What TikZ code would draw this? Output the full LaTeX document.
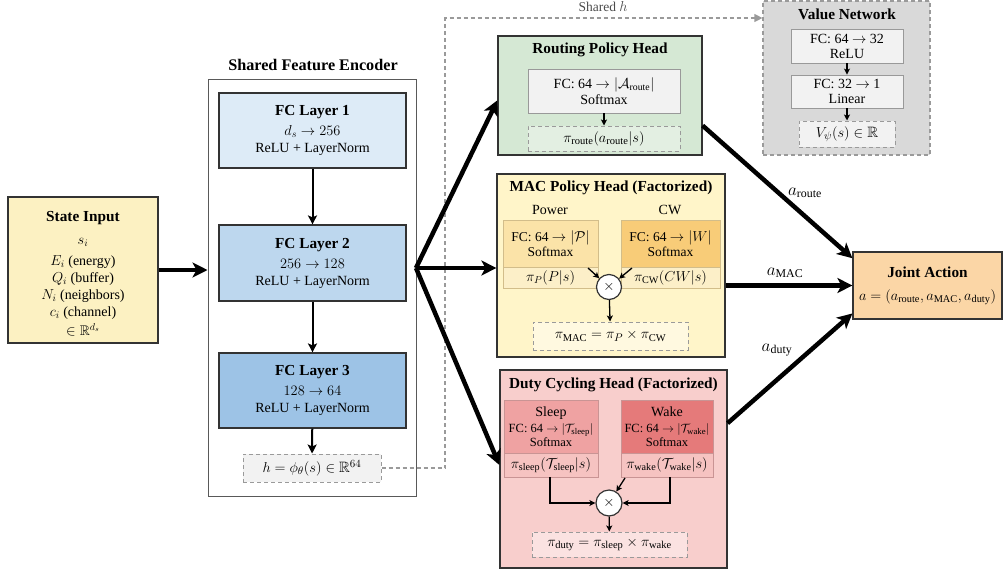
\documentclass[tikz,border=0pt]{standalone}
\usepackage{amssymb}
\usepackage{fontspec}
\setmainfont{Liberation Serif}
\usetikzlibrary{arrows.meta,calc}
\definecolor{stfill}{HTML}{FCF1C2}
\definecolor{fcone}{HTML}{DDEBF7}
\definecolor{fctwo}{HTML}{BDD7EE}
\definecolor{fcthree}{HTML}{9DC3E6}
\definecolor{grfill}{HTML}{D5E8D4}
\definecolor{grlight}{HTML}{E3EFE2}
\definecolor{ylfill}{HTML}{FFF5C9}
\definecolor{yllight}{HTML}{FFF9E0}
\definecolor{powfill}{HTML}{FBE3A8}
\definecolor{cwfill}{HTML}{F8CC78}
\definecolor{subbot}{HTML}{FCEFC8}
\definecolor{subline}{HTML}{D2BD8A}
\definecolor{pkfill}{HTML}{F8CECC}
\definecolor{pklight}{HTML}{FBE2E1}
\definecolor{slfill}{HTML}{EFA2A2}
\definecolor{wkfill}{HTML}{E57A7A}
\definecolor{pkbot}{HTML}{F6C3C1}
\definecolor{pkline}{HTML}{C99494}
\definecolor{vfill}{HTML}{D9D9D9}
\definecolor{jfill}{HTML}{FBD6A6}
\definecolor{boxgray}{HTML}{F2F2F2}
\definecolor{dashgray}{HTML}{9A9A9A}
\newcommand{\ttlfont}{\fontsize{15.3}{18}\selectfont\bfseries}
\tikzset{
  tf/.style={font=\ttlfont},
  bodytext/.style={font=\fontsize{14}{17}\selectfont},
  subtext/.style={font=\fontsize{13.5}{14.5}\selectfont},
  bx/.style={rectangle, inner sep=0pt, align=center},
  main/.style={bx, draw=black!80, line width=1.2pt},
  dbox/.style={bx, draw=dashgray, dashed, dash pattern=on 4pt off 3pt, line width=1pt},
  gbox/.style={bx, draw=black!40, line width=0.8pt, fill=boxgray},
  big/.style={line width=4.5pt, -{Stealth[length=15pt,width=15pt,inset=4pt]}},
  mid/.style={line width=2pt, -{Stealth[length=9pt,width=9pt,inset=2pt]}},
  sm/.style={line width=1.3pt, -{Stealth[length=6pt,width=6pt,inset=1.5pt]}},
  mult/.style={circle, draw=black!80, line width=1.2pt, fill=white, inner sep=0pt},
  alabel/.style={font=\fontsize{17}{19}\selectfont}
}
\begin{document}
\begin{tikzpicture}[x=1pt,y=-1pt,bodytext]
\path[use as bounding box] (0,0) rectangle (1004,574);

% ---------------- State input
\node[main, fill=stfill, minimum width=150pt, minimum height=146pt] (state) at (83,270) {};
\node[bx, bodytext] (sttext) at (83,273.5) {{\ttlfont State Input}\\[6pt] $s_i$\\[4pt] $E_i$ (energy)\\ $Q_i$ (buffer)\\ $N_i$ (neighbors)\\ $c_i$ (channel)\\[2pt] $\in\mathbb{R}^{d_s}$};

% ---------------- Encoder
\node[font=\fontsize{16.2}{19}\selectfont\bfseries] (enctitle) at (313,65) {Shared Feature Encoder};
\node[bx, draw=black!65, line width=1pt, fill=white, minimum width=208pt, minimum height=417pt] (enc) at (312,287.5) {};
\node[main, fill=fcone, minimum width=187pt, minimum height=75pt] (fc1) at (312.5,130.5) {{\ttlfont FC Layer 1}\\[3pt] $d_s \to 256$\\ ReLU + LayerNorm};
\node[main, fill=fctwo, minimum width=187pt, minimum height=76pt] (fc2) at (312.5,263) {{\ttlfont FC Layer 2}\\[3pt] $256 \to 128$\\ ReLU + LayerNorm};
\node[main, fill=fcthree, minimum width=187pt, minimum height=75pt] (fc3) at (312.5,390.5) {{\ttlfont FC Layer 3}\\[3pt] $128 \to 64$\\ ReLU + LayerNorm};
\node[dbox, fill=boxgray, minimum width=138pt, minimum height=28pt, font=\fontsize{15}{17}\selectfont] (hbox) at (312,468) {$h=\phi_\theta(s)\in\mathbb{R}^{64}$};
\draw[mid] (fc1) -- (fc2);
\draw[mid] (fc2) -- (fc3);
\draw[mid] (fc3) -- (hbox);
\draw[big] (state.east) -- (state.east -| enc.west);

% ---------------- Routing head
\node[main, fill=grfill, minimum width=204pt, minimum height=119pt] (route) at (600,95.5) {};
\node[tf] (routetitle) at (600,50) {Routing Policy Head};
\node[gbox, minimum width=152pt, minimum height=44pt, font=\fontsize{14}{16}\selectfont] (fcr) at (604,91) {FC: 64 $\to |\mathcal{A}_{\mathrm{route}}|$\\ Softmax};
\node[dbox, fill=grlight, minimum width=152pt, minimum height=25pt, font=\fontsize{15}{17}\selectfont] (pir) at (604,138.5) {$\pi_{\mathrm{route}}(a_{\mathrm{route}}|s)$};
\draw[sm] (fcr) -- (pir);

% ---------------- Value network
\node[dbox, fill=vfill, line width=1.2pt, minimum width=167pt, minimum height=154pt] (val) at (846.5,78) {};
\node[tf] (valtitle) at (847,14) {Value Network};
\node[gbox, minimum width=112pt, minimum height=34pt, font=\fontsize{14}{15}\selectfont] (vfc1) at (847,46) {FC: 64 $\to$ 32\\ ReLU};
\node[gbox, minimum width=112pt, minimum height=33pt, font=\fontsize{14}{15}\selectfont] (vfc2) at (847,91.5) {FC: 32 $\to$ 1\\ Linear};
\node[dbox, fill=boxgray, minimum width=96pt, minimum height=26pt, font=\fontsize{15}{17}\selectfont] (vv) at (847,134) {$V_\psi(s)\in\mathbb{R}$};
\draw[sm] (vfc1) -- (vfc2);
\draw[sm] (vfc2) -- (vv);

% shared h connector
\coordinate (sh) at (445,18);
\draw[dashgray, dashed, dash pattern=on 4pt off 3pt, line width=1.2pt, -{Triangle[length=8pt,width=8pt]}] (hbox.east) -| (sh) -- (sh -| val.west);
\node[font=\fontsize{13.5}{15}\selectfont, text=black!70] (shlabel) at (603,7) {Shared $h$};

% ---------------- MAC head
\node[main, fill=ylfill, minimum width=228pt, minimum height=183pt] (mac) at (611,265.5) {};
\node[tf] (mactitle) at (611,188) {MAC Policy Head (Factorized)};
\node[font=\fontsize{14}{16}\selectfont] (powlabel) at (550,210) {Power};
\node[font=\fontsize{14}{16}\selectfont] (cwlabel) at (670,210) {CW};
\node[bx, draw=subline, line width=0.8pt, fill=powfill, minimum width=95pt, minimum height=47pt, subtext] (powtop) at (550.5,243.5) {FC: 64 $\to |\mathcal{P}|$\\ Softmax};
\node[bx, draw=subline, line width=0.8pt, fill=subbot, minimum width=95pt, minimum height=21pt, font=\fontsize{14.5}{16}\selectfont] (powbot) at (550.5,277.5) {$\pi_P(P|s)$};
\node[bx, draw=subline, line width=0.8pt, fill=cwfill, minimum width=99pt, minimum height=47pt, subtext] (cwtop) at (670.5,243.5) {FC: 64 $\to |W|$\\ Softmax};
\node[bx, draw=subline, line width=0.8pt, fill=subbot, minimum width=99pt, minimum height=21pt, font=\fontsize{14.5}{16}\selectfont] (cwbot) at (670.5,277.5) {$\pi_{\mathrm{CW}}(CW|s)$};
\node[mult, minimum size=25pt] (macx) at (609,287) {$\times$};
\node[dbox, fill=yllight, minimum width=155pt, minimum height=28pt, font=\fontsize{15}{17}\selectfont] (pimac) at (610.5,336) {$\pi_{\mathrm{MAC}}=\pi_P\times\pi_{\mathrm{CW}}$};
\coordinate (pa) at (588,268);
\coordinate (ca) at (632,268);
\draw[sm] (pa) -- (macx);
\draw[sm] (ca) -- (macx);
\draw[sm] (macx) -- (pimac);

% ---------------- Duty head
\node[main, fill=pkfill, minimum width=227pt, minimum height=198pt] (duty) at (613.5,469) {};
\node[tf] (dutytitle) at (613.5,385) {Duty Cycling Head (Factorized)};
\node[bx, draw=pkline, line width=0.8pt, fill=slfill, minimum width=94pt, minimum height=53pt, font=\fontsize{12.5}{13.5}\selectfont] (sltop) at (551,426.5) {{\fontsize{14}{15}\selectfont Sleep}\\[3pt] FC: 64 $\to |\mathcal{T}_{\mathrm{sleep}}|$\\ Softmax};
\node[bx, draw=pkline, line width=0.8pt, fill=pkbot, minimum width=94pt, minimum height=24pt, font=\fontsize{14.5}{16}\selectfont] (slbot) at (551,465) {$\pi_{\mathrm{sleep}}(\mathcal{T}_{\mathrm{sleep}}|s)$};
\node[bx, draw=pkline, line width=0.8pt, fill=wkfill, minimum width=92pt, minimum height=53pt, font=\fontsize{12.5}{13.5}\selectfont] (watop) at (667,426.5) {{\fontsize{14}{15}\selectfont Wake}\\[3pt] FC: 64 $\to |\mathcal{T}_{\mathrm{wake}}|$\\ Softmax};
\node[bx, draw=pkline, line width=0.8pt, fill=pkbot, minimum width=92pt, minimum height=24pt, font=\fontsize{14.5}{16}\selectfont] (wabot) at (667,465) {$\pi_{\mathrm{wake}}(\mathcal{T}_{\mathrm{wake}}|s)$};
\node[mult, minimum size=26pt] (dx) at (609,503) {$\times$};
\node[dbox, fill=pklight, minimum width=155pt, minimum height=25pt, font=\fontsize{15}{17}\selectfont] (pid) at (609.5,544.5) {$\pi_{\mathrm{duty}}=\pi_{\mathrm{sleep}}\times\pi_{\mathrm{wake}}$};
\coordinate (sa) at (550,477);
\coordinate (wa) at (670,477);
\coordinate (wd) at (625,478);
\draw[sm] (sa) |- (dx.west);
\draw[sm] (wa) |- (dx.east);
\draw[sm] (wd) -- (dx);
\draw[sm] (dx) -- (pid);

% ---------------- Joint action
\node[main, fill=jfill, minimum width=149pt, minimum height=67pt] (joint) at (927.5,285.5) {{\ttlfont Joint Action}\\[6pt] {\fontsize{14.8}{16}\selectfont $a=(a_{\mathrm{route}},a_{\mathrm{MAC}},a_{\mathrm{duty}})$}};

% ---------------- fan from encoder
\coordinate (fan) at (416,268);
\draw[big] (fan) -- ($(route.north west)!0.54!(route.south west)$);
\draw[big] (fan) -- (fan -| mac.west);
\draw[big] (fan) -- ($(duty.north west)!0.48!(duty.south west)$);

% ---------------- outputs
\draw[big] ($(route.north east)!0.75!(route.south east)$) -- ($(joint.north west)!0.1!(joint.south west)$);
\draw[big] (joint.west -| mac.east) -- (joint.west);
\draw[big] ($(duty.north east)!0.27!(duty.south east)$) -- ($(joint.north west)!0.91!(joint.south west)$);
\node[alabel] (lroute) at (805,193) {$a_{\mathrm{route}}$};
\node[alabel] (lmac) at (785,273) {$a_{\mathrm{MAC}}$};
\node[alabel] (lduty) at (777,350) {$a_{\mathrm{duty}}$};
\end{tikzpicture}
\end{document}
